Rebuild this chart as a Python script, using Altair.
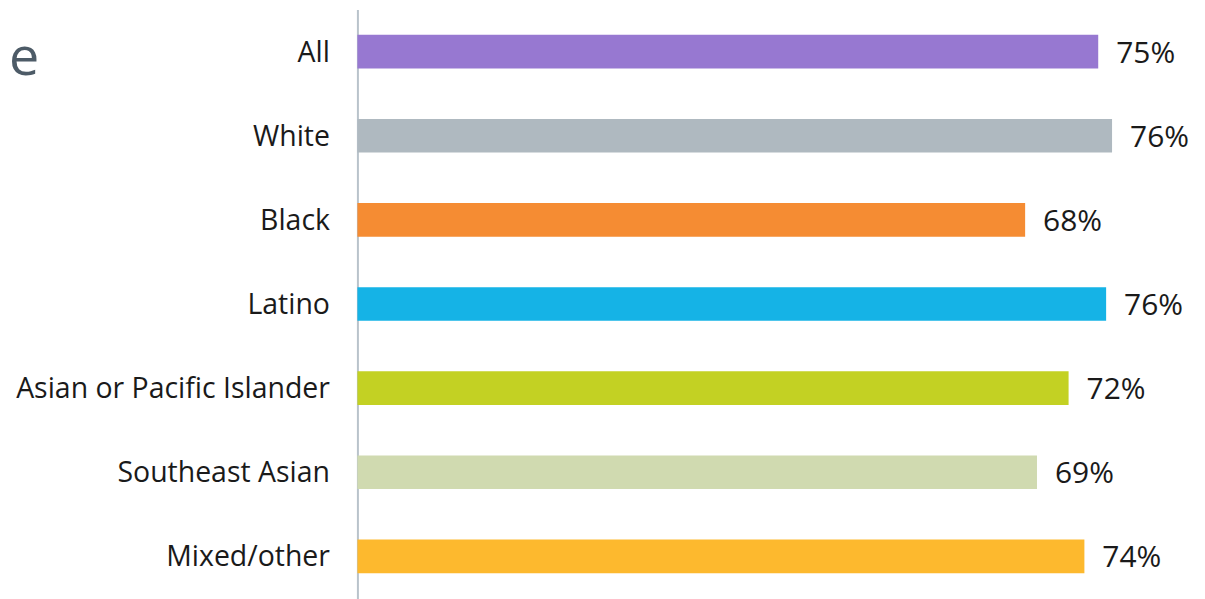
import altair as alt
import pandas as pd

categories = ["All", "White", "Black", "Latino", "Asian or Pacific Islander", "Southeast Asian", "Mixed/other"]
values = [75.0, 76.4, 67.6, 75.8, 72.0, 68.8, 73.6]
value_labels = ["75%", "76%", "68%", "76%", "72%", "69%", "74%"]
colors = ["#9778d1", "#afb9c0", "#f58c33", "#15b3e6", "#c3d123", "#d0dab0", "#fdb92e"]
title_fragment = ["e"]

df = pd.DataFrame({"cat": categories, "val": values, "lab": value_labels, "col": colors})

FONT = "Open Sans"

y_enc = alt.Y("cat:N", sort=categories,
              scale=alt.Scale(paddingInner=0.6, paddingOuter=0.3),
              axis=alt.Axis(title=None, ticks=False, domain=True, domainColor="#b9c3cb",
                            domainWidth=2, labelFontSize=28.5, labelFont=FONT, labelLimit=400,
                            labelColor="#1a1a1a", labelPadding=28, labelBaseline="middle",
                            labelOffset=1, grid=False))
x_enc = alt.X("val:Q", scale=alt.Scale(domain=[0, 85], nice=False), axis=None)

bars = alt.Chart(df).mark_bar().encode(
    y=y_enc, x=x_enc, color=alt.Color("col:N", scale=None)
)
labels = alt.Chart(df).mark_text(align="left", baseline="middle", dx=18, dy=2, fontSize=30,
                                 font=FONT, color="#1a1a1a").encode(
    y=alt.Y("cat:N", sort=categories), x="val:Q", text="lab:N"
)
frag = alt.Chart(pd.DataFrame({"t": title_fragment})).mark_text(
    align="left", baseline="alphabetic", fontSize=54, font=FONT, color="#4d5b67"
).encode(x=alt.value(-349), y=alt.value(66), text="t:N")

chart = alt.layer(bars, labels, frag).properties(
    width=841, height=590,
    autosize=alt.AutoSizeParams(type="none"),
    padding={"left": 350, "top": 1, "right": 0, "bottom": 0},
).configure_view(stroke=None)

chart.save("out.html", embed_options={"renderer": "svg", "actions": False})
